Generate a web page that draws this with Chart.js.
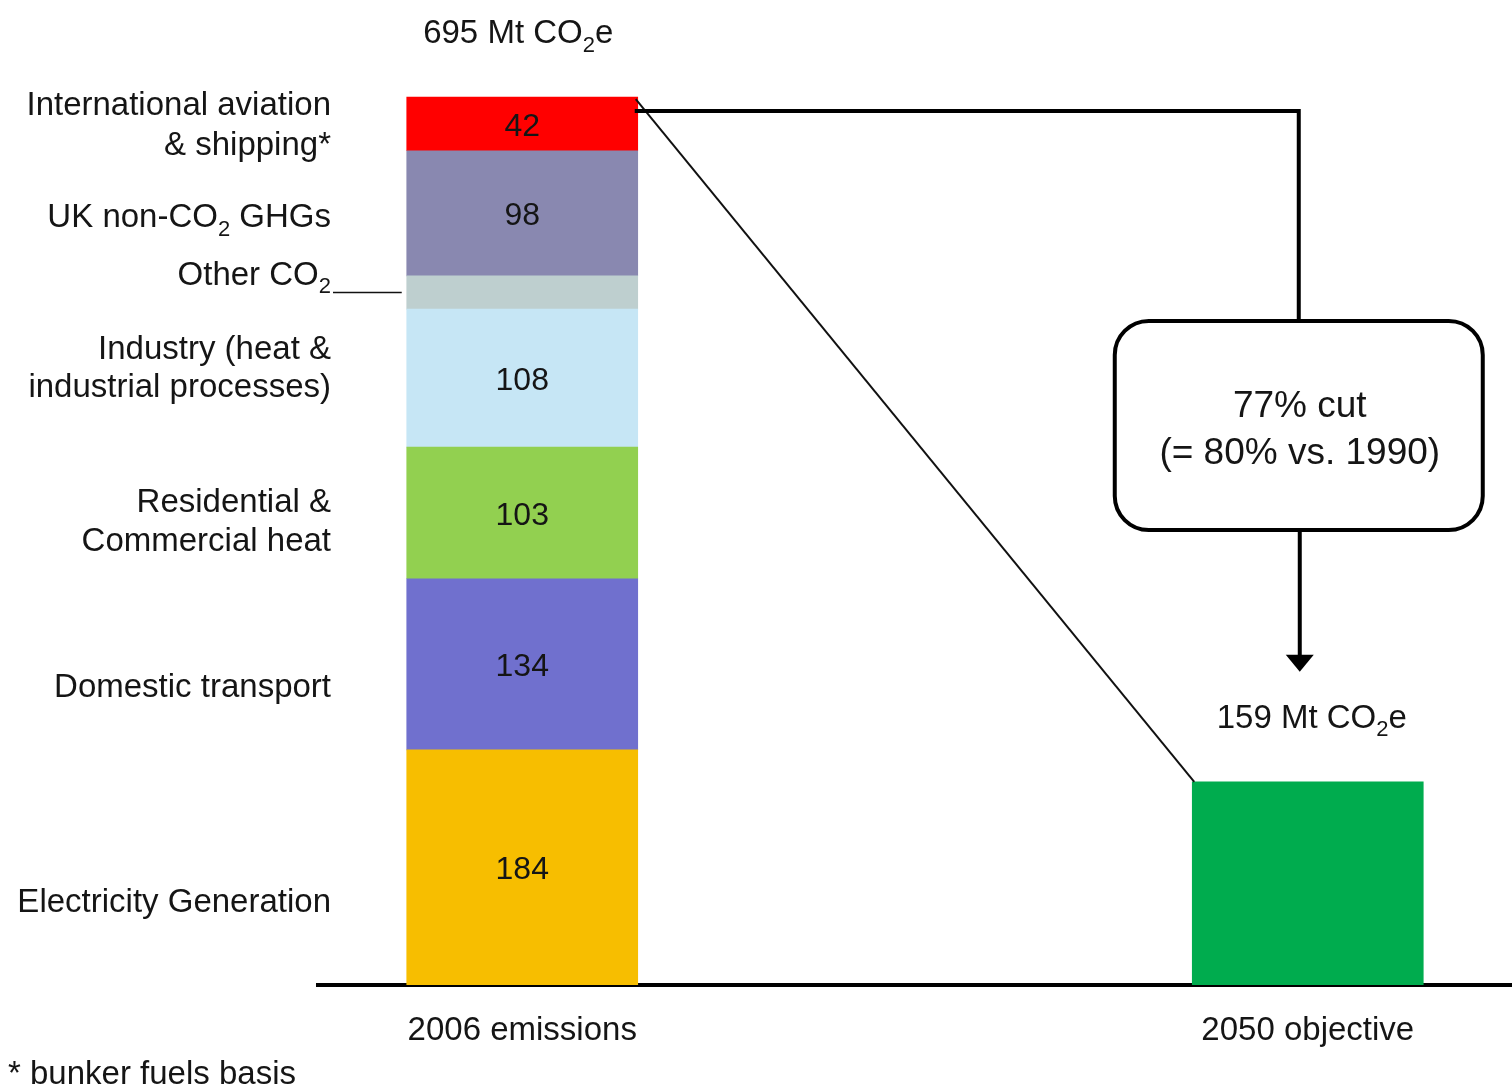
<!DOCTYPE html>
<html>
<head>
<meta charset="utf-8">
<script src="https://cdn.jsdelivr.net/npm/chart.js@4/dist/chart.umd.min.js"></script>
<style>
    html, body { margin: 0; padding: 0; background: #fff; }
    canvas { display: block; }
</style>
</head>
<body>
<canvas id="emissionsChart" width="1512" height="1088"></canvas>
<script>
// Categories on the x axis
const categories = ['2006 emissions', '2050 objective'];

// 2006 emissions by sector (Mt CO2e), bottom to top of the stack
const sectors = [
    'Electricity Generation',
    'Domestic transport',
    'Residential & Commercial heat',
    'Industry (heat & industrial processes)',
    'Other CO2',
    'UK non-CO2 GHGs',
    'International aviation & shipping*'
];
const values2006 = [184, 134, 103, 108, 26, 98, 42];
const showValue = [true, true, true, true, false, true, true];

// 2050 objective (Mt CO2e)
const objective2050 = [159];

const sectorColors = [
    'rgb(247, 190, 0)',     // Electricity
    'rgb(112, 112, 206)',   // Transport
    'rgb(146, 208, 80)',    // Residential
    'rgb(198, 230, 245)',   // Industry
    'rgb(190, 207, 207)',   // Other CO2
    'rgb(137, 136, 176)',   // Non-CO2
    'rgb(255, 0, 0)'        // Aviation
];
const objectiveColor = 'rgb(0, 172, 78)';

const TEXT = '#151515';
const FONT = '"Liberation Sans", Arial, sans-serif';

// Left-hand labels: lines and vertical offset from the segment centre
const sideLabels = [
    { lines: ['Electricity Generation'], dy: [33] },
    { lines: ['Domestic transport'], dy: [21] },
    { lines: ['Residential &', 'Commercial heat'], dy: [-13, 26] },
    { lines: ['Industry (heat &', 'industrial processes)'], dy: [-31, 7] },
    { lines: ['Other CO_2'], dy: [-20], leader: true },
    { lines: ['UK non-CO_2 GHGs'], dy: [2] },
    { lines: ['International aviation', '& shipping*'], dy: [-21, 19] }
];

/**
 * Split a string into normal and subscript pieces ("_2" marks a subscript 2)
 */
function parseRich(str) {
    const parts = [];
    const bits = str.split('_');
    parts.push({ t: bits[0], sub: false });
    for (let i = 1; i < bits.length; i++) {
        parts.push({ t: bits[i].charAt(0), sub: true });
        if (bits[i].length > 1) parts.push({ t: bits[i].slice(1), sub: false });
    }
    return parts;
}

function drawRich(ctx, str, x, y, align, size) {
    const parts = parseRich(str);
    const subSize = Math.round(size * 0.68);
    let total = 0;
    parts.forEach(p => {
        ctx.font = (p.sub ? subSize : size) + 'px ' + FONT;
        p.w = ctx.measureText(p.t).width;
        total += p.w;
    });
    let cx = x;
    if (align === 'right') cx = x - total;
    if (align === 'center') cx = x - total / 2;
    ctx.textAlign = 'left';
    ctx.textBaseline = 'alphabetic';
    parts.forEach(p => {
        ctx.font = (p.sub ? subSize : size) + 'px ' + FONT;
        ctx.fillText(p.t, cx, p.sub ? y + size * 0.26 : y);
        cx += p.w;
    });
    return total;
}

const annotationPlugin = {
    id: 'annotations',
    afterDatasetsDraw(chart) {
        const ctx = chart.ctx;
        const nSec = sectors.length;
        ctx.save();
        ctx.fillStyle = TEXT;

        // values inside the segments and labels on the left
        for (let i = 0; i < nSec; i++) {
            const el = chart.getDatasetMeta(i).data[0];
            const mid = (el.y + el.base) / 2;
            if (showValue[i]) {
                ctx.font = '32px ' + FONT;
                ctx.textAlign = 'center';
                ctx.textBaseline = 'alphabetic';
                ctx.fillText(String(values2006[i]), el.x, mid + 12);
            }
            const lab = sideLabels[i];
            lab.lines.forEach((line, k) => {
                drawRich(ctx, line, 331, mid + lab.dy[k] + 12, 'right', 33);
            });
            if (lab.leader) {
                ctx.strokeStyle = '#111';
                ctx.lineWidth = 1.5;
                ctx.beginPath();
                ctx.moveTo(333, mid);
                ctx.lineTo(el.x - el.width / 2 - 5, mid);
                ctx.stroke();
            }
        }

        const topEl = chart.getDatasetMeta(nSec - 1).data[0];
        const objEl = chart.getDatasetMeta(nSec).data[0];
        const stackRight = topEl.x + topEl.width / 2;
        const stackTop = topEl.y;

        // totals above the bars
        const total2006 = values2006.reduce((a, b) => a + b, 0);
        drawRich(ctx, total2006 + ' Mt CO_2e', topEl.x - 4, stackTop - 54, 'center', 33);
        drawRich(ctx, objective2050[0] + ' Mt CO_2e', objEl.x + 4, objEl.y - 54, 'center', 33);

        // thin diagonal from top of 2006 stack to top of 2050 bar
        ctx.strokeStyle = '#111';
        ctx.lineWidth = 2;
        ctx.beginPath();
        ctx.moveTo(stackRight - 2, stackTop + 2);
        ctx.lineTo(objEl.x - objEl.width / 2 + 2, objEl.y);
        ctx.stroke();

        // thick connector to the box
        const boxCx = objEl.x - 9;
        const boxW = 368, boxH = 209, boxTop = 321;
        ctx.lineWidth = 4;
        ctx.strokeStyle = '#000';
        ctx.beginPath();
        ctx.moveTo(stackRight - 3, stackTop + 14);
        ctx.lineTo(boxCx, stackTop + 14);
        ctx.lineTo(boxCx, boxTop);
        ctx.stroke();

        // rounded box
        ctx.fillStyle = '#fff';
        ctx.beginPath();
        ctx.roundRect(boxCx - boxW / 2, boxTop, boxW, boxH, 34);
        ctx.fill();
        ctx.stroke();

        ctx.fillStyle = TEXT;
        ctx.font = '37px ' + FONT;
        ctx.textAlign = 'center';
        ctx.textBaseline = 'alphabetic';
        ctx.fillText('77% cut', boxCx + 1, 417);
        ctx.fillText('(= 80% vs. 1990)', boxCx + 1, 464);

        // arrow down to the 2050 label
        const tip = objEl.y - 110;
        ctx.beginPath();
        ctx.moveTo(boxCx + 1, boxTop + boxH);
        ctx.lineTo(boxCx + 1, tip - 14);
        ctx.stroke();
        ctx.fillStyle = '#000';
        ctx.beginPath();
        ctx.moveTo(boxCx + 1 - 14, tip - 17);
        ctx.lineTo(boxCx + 1 + 14, tip - 17);
        ctx.lineTo(boxCx + 1, tip);
        ctx.closePath();
        ctx.fill();

        // footnote
        ctx.fillStyle = TEXT;
        drawRich(ctx, '* bunker fuels basis', 8, 1084, 'left', 33);
        ctx.restore();
    }
};

const datasets = sectors.map((name, i) => ({
    label: name,
    data: [{ x: 0, y: values2006[i] }],
    backgroundColor: sectorColors[i],
    borderWidth: 0
}));
datasets.push({
    label: categories[1],
    data: [{ x: 1, y: objective2050[0] }],
    backgroundColor: objectiveColor,
    borderWidth: 0
});

new Chart(document.getElementById('emissionsChart').getContext('2d'), {
    type: 'bar',
    data: { datasets: datasets },
    options: {
        responsive: false,
        animation: false,
        devicePixelRatio: 1,
        barThickness: 231,
        layout: { padding: { left: 318, right: 0, top: 14, bottom: 0 } },
        plugins: {
            legend: { display: false },
            tooltip: { enabled: false }
        },
        scales: {
            x: {
                type: 'linear',
                stacked: true,
                offset: false,
                min: -0.26,
                max: 1.26,
                grid: { display: false, drawTicks: false, offset: false },
                border: { display: true, color: '#000', width: 4 },
                afterBuildTicks: function(scale) {
                    scale.ticks = categories.map((c, i) => ({ value: i }));
                },
                afterFit: function(scale) {
                    scale.height = 103;
                },
                ticks: {
                    autoSkip: false,
                    maxRotation: 0,
                    padding: 26,
                    color: TEXT,
                    font: { family: FONT, size: 33 },
                    callback: function(value) {
                        return categories[value] || '';
                    }
                }
            },
            y: {
                display: false,
                stacked: true,
                min: 0,
                max: 760
            }
        }
    },
    plugins: [annotationPlugin]
});
</script>
</body>
</html>
